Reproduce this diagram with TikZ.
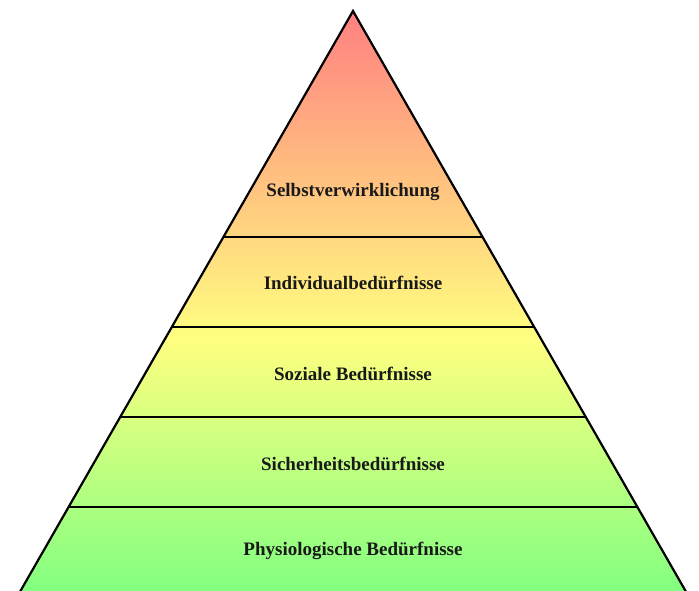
\documentclass[tikz,border=0pt]{standalone}
\usepackage{fontspec}
\setmainfont{Liberation Serif}
\pgfdeclareverticalshading{pyrshade}{100bp}{color(0bp)=(green!50); color(25bp)=(green!50); color(47bp)=(yellow!50); color(75bp)=(red!50); color(100bp)=(red!50)}
\begin{document}
\begin{tikzpicture}[x=1pt,y=-1pt,
  lvl/.style={font=\bfseries\fontsize{19}{22}\selectfont, text=black!90},
  edge/.style={line width=2.2pt, black}]
\useasboundingbox (0,0) rectangle (699,591);
\begin{scope}
\clip (0,0) rectangle (699,591);
\coordinate (apex) at (353,11);
\coordinate (bl) at (17,597);
\coordinate (br) at (689,597);
\shade[shading=pyrshade] (apex) -- (br) -- (bl) -- cycle;
\draw[edge, line join=miter] (bl) -- (apex) -- (br);
\foreach \yy/\nm in {237/a,327/b,417/c,507/d}{
  \pgfmathsetmacro{\hw}{0.5734*(\yy-11)}
  \coordinate (L\nm) at (353-\hw,\yy);
  \coordinate (R\nm) at (353+\hw,\yy);
  \draw[edge] (L\nm) -- (R\nm);
}
\end{scope}
\node[lvl] (n1) at (353,192) {Selbstverwirklichung};
\node[lvl] (n2) at (353,283) {Individualbedürfnisse};
\node[lvl] (n3) at (353,374) {Soziale Bedürfnisse};
\node[lvl] (n4) at (353,464) {Sicherheitsbedürfnisse};
\node[lvl] (n5) at (353,551) {Physiologische Bedürfnisse};
\end{tikzpicture}
\end{document}
